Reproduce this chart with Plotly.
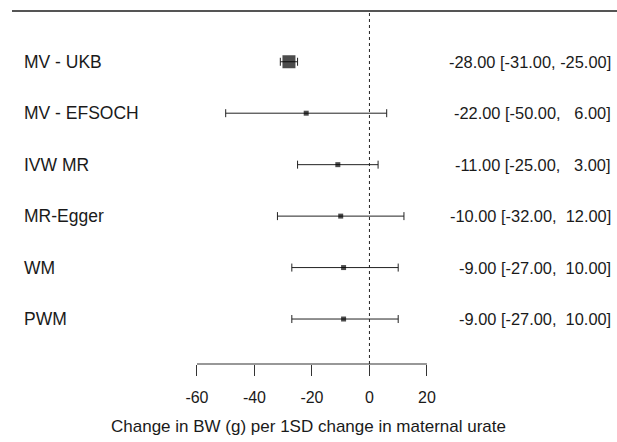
import plotly.graph_objects as go

labels = ["MV - UKB", "MV - EFSOCH", "IVW MR", "MR-Egger", "WM", "PWM"]
estimates = [-28.0, -22.0, -11.0, -10.0, -9.0, -9.0]
lower = [-31.0, -50.0, -25.0, -32.0, -27.0, -27.0]
upper = [-25.0, 6.0, 3.0, 12.0, 10.0, 10.0]
marker_sizes = [13, 5, 5, 5, 5, 5]
tick_vals = [-60, -40, -20, 0, 20]
x_title = "Change in BW (g) per 1SD change in maternal urate"

W, H = 617, 442
FONT = "Liberation Sans, Arial, sans-serif"
TXT = "#1a1a1a"

rows = list(range(len(labels)))

# axis geometry (layout)
x_range = [-128.5, 86.1]
y_range = [7.39, -1.2]
axis_pos = (H - 364) / H
top_line_y = (H - 11) / H

def fmt(v, width=6):
    s = f"{v:.2f}"
    pad = max(0, width - len(s))
    return "\u00a0" * pad + s

right_texts = [f"{e:.2f} [{lo:.2f}, {fmt(hi)}]" for e, lo, hi in zip(estimates, lower, upper)]

fig = go.Figure()
fig.add_trace(go.Scatter(
    x=estimates, y=rows, mode="markers",
    marker=dict(symbol="square", size=marker_sizes, color="black", line=dict(width=0)),
    error_x=dict(type="data", symmetric=False,
                 array=[u - e for u, e in zip(upper, estimates)],
                 arrayminus=[e - l for e, l in zip(estimates, lower)],
                 color="#222222", thickness=1, width=4),
    showlegend=False, hoverinfo="skip",
))

for r, lab, rt in zip(rows, labels, right_texts):
    fig.add_annotation(x=22 / W, xref="paper", y=r, yref="y", text=lab,
                       showarrow=False, xanchor="left", yanchor="middle",
                       font=dict(family=FONT, size=17.5, color=TXT))
    fig.add_annotation(x=613 / W, xref="paper", y=r, yref="y", text=rt,
                       showarrow=False, xanchor="right", yanchor="middle",
                       font=dict(family=FONT, size=16.4, color=TXT))

# top rule
fig.add_shape(type="line", xref="paper", yref="paper", x0=12 / W, x1=1,
              y0=top_line_y, y1=top_line_y, line=dict(color="#555555", width=2))
# dotted reference line at 0
fig.add_shape(type="line", xref="x", yref="paper", x0=0, x1=0,
              y0=axis_pos, y1=top_line_y, line=dict(color="#222222", width=1, dash="dot"))
# axis line spanning tick range
fig.add_shape(type="line", xref="x", yref="paper", x0=min(tick_vals), x1=max(tick_vals),
              y0=axis_pos, y1=axis_pos, line=dict(color="#333333", width=1.2))

fig.update_layout(
    width=W, height=H,
    margin=dict(l=0, r=0, t=0, b=0),
    paper_bgcolor="white", plot_bgcolor="white",
    xaxis=dict(range=x_range, anchor="free", position=axis_pos,
               tickmode="array", tickvals=tick_vals, ticktext=[str(t) for t in tick_vals],
               ticks="outside", ticklen=11, tickwidth=1.2, tickcolor="#333333",
               ticklabelstandoff=8,
               showline=False, showgrid=False, zeroline=False,
               tickfont=dict(family=FONT, size=16, color=TXT),
               title=dict(text=x_title, font=dict(family=FONT, size=17, color=TXT), standoff=14)),
    yaxis=dict(range=y_range, visible=False, showgrid=False, zeroline=False),
)

fig.write_html("out.html", config={"displayModeBar": False},
               post_script="document.body.style.margin='0';document.body.style.overflow='hidden';")
